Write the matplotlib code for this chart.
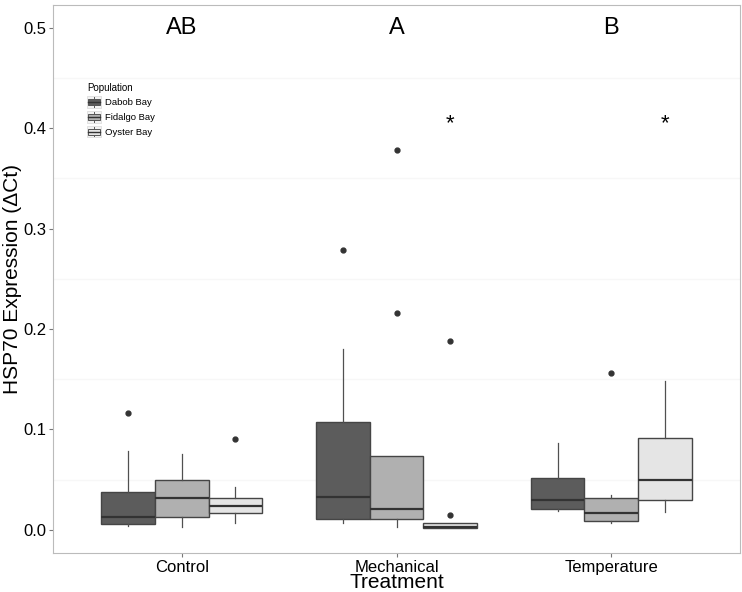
import matplotlib
matplotlib.use("Agg")
from matplotlib import pyplot as plt
from matplotlib.patches import Patch, Rectangle
from matplotlib.lines import Line2D
from matplotlib.legend_handler import HandlerBase

plt.rcParams['font.family'] = ['Liberation Sans', 'DejaVu Sans']

treatments = ["Control", "Mechanical", "Temperature"]
populations = ["Dabob Bay", "Fidalgo Bay", "Oyster Bay"]
fills = ["#5c5c5c", "#b0b0b0", "#e5e5e5"]

# box stats, per treatment then population
q1 = [[0.0057, 0.0126, 0.0166],
      [0.0106, 0.0112, 0.0020],
      [0.0209, 0.0086, 0.0298]]
med = [[0.0132, 0.0320, 0.0235],
       [0.0330, 0.0205, 0.0027],
       [0.0300, 0.0166, 0.0497]]
q3 = [[0.0380, 0.0497, 0.0320],
      [0.1070, 0.0736, 0.0066],
      [0.0517, 0.0320, 0.0910]]
wlo = [[0.0040, 0.0033, 0.0073],
       [0.0066, 0.0026, 0.0020],
       [0.0186, 0.0073, 0.0182]]
whi = [[0.0785, 0.0760, 0.0430],
       [0.1800, 0.0736, 0.0066],
       [0.0860, 0.0348, 0.1480]]
outliers = [[[0.116], [], [0.090]],
            [[0.279], [0.378, 0.216], [0.188, 0.015]],
            [[], [0.156], []]]

letters = ["AB", "A", "B"]
letter_y = 0.5
stars = [(1, 2), (2, 2)]  # (treatment index, population index)
star_y = 0.405


class BoxKey(HandlerBase):
    # little boxplot glyph like ggplot's legend keys
    def create_artists(self, legend, orig, xd, yd, w, h, fontsize, trans):
        x0, y0 = -xd, -yd
        bg = Rectangle((x0, y0), w, h, facecolor="#f2f2f2", edgecolor="#dddddd",
                       linewidth=0.6, transform=trans)
        cx = x0 + w / 2
        wl = Line2D([cx, cx], [y0 + 0.08 * h, y0 + 0.92 * h], color="#555555",
                    linewidth=0.7, transform=trans)
        box = Rectangle((x0 + 0.08 * w, y0 + 0.25 * h), 0.84 * w, 0.5 * h,
                        facecolor=orig.get_facecolor(), edgecolor="#555555",
                        linewidth=0.7, transform=trans)
        md = Line2D([x0 + 0.08 * w, x0 + 0.92 * w], [y0 + h / 2, y0 + h / 2],
                    color="#333333", linewidth=1.0, transform=trans)
        return [bg, wl, box, md]


fig = plt.figure(figsize=(7.42, 5.92), dpi=100)
ax = fig.add_axes([0.0714, 0.066, 0.926, 0.926])

width = 0.25
for t in range(3):
    for p in range(3):
        pos = t + 1 + (p - 1) * width
        st = dict(med=med[t][p], q1=q1[t][p], q3=q3[t][p],
                  whislo=wlo[t][p], whishi=whi[t][p], fliers=outliers[t][p])
        ax.bxp([st], positions=[pos], widths=width, patch_artist=True,
               showcaps=False,
               boxprops=dict(facecolor=fills[p], edgecolor="#454545", linewidth=1.0),
               medianprops=dict(color="#333333", linewidth=1.6),
               whiskerprops=dict(color="#505050", linewidth=0.9),
               flierprops=dict(marker="o", markersize=3.5, markerfacecolor="#333333",
                               markeredgecolor="#333333"))

for t, lab in enumerate(letters):
    ax.text(t + 1, letter_y, lab, ha="center", va="center", fontsize=17)
for t, p in stars:
    ax.text(t + 1 + (p - 1) * width, star_y, "*", ha="center", va="center", fontsize=16)

ax.set_xlim(0.4, 3.6)
ax.set_ylim(-0.023, 0.523)
ax.set_xticks([1, 2, 3])
ax.set_xticklabels(treatments, fontsize=12)
ax.set_yticks([0.0, 0.1, 0.2, 0.3, 0.4, 0.5])
ax.set_yticklabels(["0.0", "0.1", "0.2", "0.3", "0.4", "0.5"], fontsize=12)
ax.tick_params(length=3, color="#777777", pad=2)
ax.set_yticks([0.05, 0.15, 0.25, 0.35, 0.45], minor=True)
ax.tick_params(which="minor", length=0)
ax.grid(which="minor", axis="y", color="#f7f7f7", linewidth=1)
ax.set_axisbelow(True)
for s in ax.spines.values():
    s.set_color("#bbbbbb")

ax.set_xlabel("Treatment", fontsize=15, labelpad=-1)
ax.set_ylabel("HSP70 Expression (ΔCt)", fontsize=15, labelpad=1)

handles = [Patch(facecolor=c) for c in fills]
leg = ax.legend(handles, populations, title="Population", loc="upper left",
                bbox_to_anchor=(0.043, 0.866), fontsize=6.8, title_fontsize=7,
                frameon=False, handlelength=1.5, handleheight=1.5,
                handletextpad=0.35, labelspacing=0.35, borderpad=0,
                handler_map={Patch: BoxKey()})
leg._legend_box.align = "left"

fig.savefig("out.png", dpi=100)
